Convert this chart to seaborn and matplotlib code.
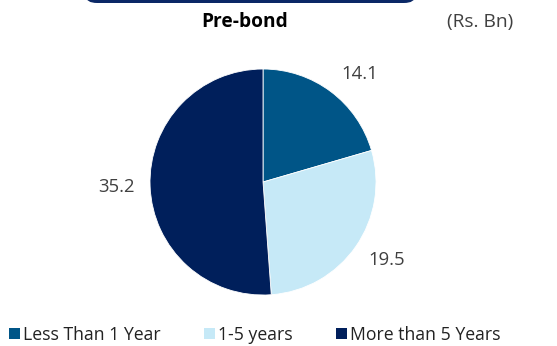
import matplotlib
matplotlib.use("Agg")
import matplotlib.pyplot as plt
from matplotlib.patches import Patch, FancyBboxPatch
import seaborn as sns

# data
categories = ["Less Than 1 Year", "1-5 years", "More than 5 Years"]
values = [14.1, 19.5, 35.2]
colors = ["#005587", "#c6e9f7", "#001f5b"]
title = "Pre-bond"
unit = "(Rs. Bn)"

sns.set_theme(style="white")
plt.rcParams['font.family'] = ['Open Sans', 'DejaVu Sans']

fig = plt.figure(figsize=(5.57, 3.46), dpi=100)

# dark banner cut off at the top
fig.patches.append(FancyBboxPatch((86 / 557, 1.0 - 3 / 346), 329 / 557, 0.2,
                                  boxstyle="round,pad=0,rounding_size=0.02",
                                  transform=fig.transFigure, facecolor="#0b2866",
                                  edgecolor="none"))

ax = fig.add_axes([0.2186, 0.0657, 0.5072, 0.8165])
wedges, texts = ax.pie(values, colors=sns.color_palette(colors), startangle=90,
                       counterclock=False, labels=[f"{v:.1f}" for v in values],
                       labeldistance=1.3,
                       wedgeprops=dict(linewidth=0.6, edgecolor="white"),
                       textprops=dict(fontsize=13.3, color="#404040"))
for t in texts:
    t.set_horizontalalignment("center")
    t.set_verticalalignment("center")
# nudge labels a little, like the original
texts[0].set_position((texts[0].get_position()[0] + 0.08, texts[0].get_position()[1] - 0.08))
texts[1].set_position((texts[1].get_position()[0] + 0.03, texts[1].get_position()[1] + 0.05))
ax.set_aspect("equal")

fig.text(245 / 557, 1 - 22 / 346, title, ha="center", va="center",
         fontsize=13.8, fontweight="bold", color="black")
fig.text(480 / 557, 1 - 22 / 346, unit, ha="center", va="center",
         fontsize=13.8, color="#404040")

handles = [Patch(facecolor=c, edgecolor="none") for c in colors]
fig.legend(handles, categories, loc="center", bbox_to_anchor=(0.458, 1 - 335 / 346),
           ncol=3, frameon=False, fontsize=12.7, handlelength=0.6, handleheight=0.6,
           handletextpad=0.2, columnspacing=2.45, labelcolor="#222222")

fig.savefig("out.png", dpi=100)
